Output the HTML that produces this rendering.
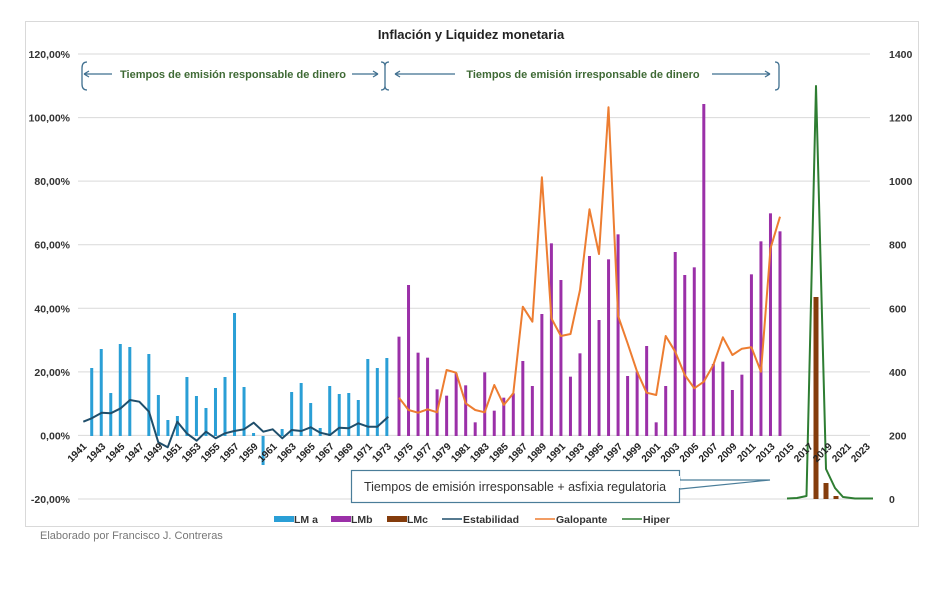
<!DOCTYPE html>
<html><head><meta charset="utf-8"><style>
body{margin:0;background:#fff;width:942px;height:593px;overflow:hidden;font-family:"Liberation Sans",sans-serif}
</style></head><body>
<svg id="s" width="942" height="593" xmlns="http://www.w3.org/2000/svg" font-family="Liberation Sans, sans-serif">
<rect x="25.5" y="21.5" width="893" height="505" fill="#fff" stroke="#d9d9d9"/>
<text x="471" y="39" font-size="13" font-weight="bold" text-anchor="middle" fill="#222">Inflación y Liquidez monetaria</text>
<g id="grid" stroke="#d9d9d9" stroke-width="1"></g>
<g id="ylab" font-size="10.5" font-weight="bold" fill="#333"></g>
<g id="bars"></g>
<g id="lines" fill="none" stroke-width="2" stroke-linejoin="round"></g>
<g id="xlab" font-size="10" font-weight="bold" fill="#222"></g>
<g stroke="#3f6f8f" stroke-width="1.3" fill="none">
<path d="M87,62 Q82,62 82,68 L82,84 Q82,90 87,90"/>
<path d="M84,74 L112,74 M84,74 l5,-3 M84,74 l5,3"/>
<path d="M352,74 L378,74 M378,74 l-5,-3 M378,74 l-5,3"/>
<path d="M381,62 Q385,62 385,66 L385,86 Q385,90 381,90 M389,62 Q385,62 385,66 M385,86 Q385,90 389,90"/>
<path d="M395,74 L455,74 M395,74 l5,-3 M395,74 l5,3"/>
<path d="M712,74 L770,74 M770,74 l-5,-3 M770,74 l-5,3"/>
<path d="M775,62 Q779,62 779,66 L779,86 Q779,90 775,90"/>
</g>
<text x="233" y="78" font-size="11" font-weight="bold" fill="#3f6a35" text-anchor="middle">Tiempos de emisión responsable de dinero</text>
<text x="583" y="78" font-size="11" font-weight="bold" fill="#3f6a35" text-anchor="middle">Tiempos de emisión irresponsable de dinero</text>
<path d="M679,474 L680,480 L770,480 L680,489" fill="#fff" stroke="#4a7d99" stroke-width="1.2"/>
<rect x="351.5" y="470.5" width="328" height="32" fill="#fff" stroke="#4a7d99" stroke-width="1.2"/>
<path d="M679,476 L679,488" stroke="#fff" stroke-width="2"/>
<text x="515" y="491" font-size="12.5" fill="#333" text-anchor="middle">Tiempos de emisión irresponsable + asfixia regulatoria</text>
<g font-size="10.5" font-weight="bold" fill="#333">
<rect x="274" y="516" width="20" height="6" fill="#2a9fd6"/><text x="294" y="523">LM a</text>
<rect x="331" y="516" width="20" height="6" fill="#9b30a8"/><text x="351" y="523">LMb</text>
<rect x="387" y="516" width="20" height="6" fill="#843c0c"/><text x="407" y="523">LMc</text>
<line x1="442" y1="519" x2="462" y2="519" stroke="#1f4e6b" stroke-width="1.5"/><text x="463" y="523">Estabilidad</text>
<line x1="535" y1="519" x2="555" y2="519" stroke="#ed7d31" stroke-width="1.5"/><text x="556" y="523">Galopante</text>
<line x1="622" y1="519" x2="642" y2="519" stroke="#2e7d32" stroke-width="1.5"/><text x="643" y="523">Hiper</text>
</g>
<text x="40" y="539" font-size="11" fill="#777">Elaborado por Francisco J. Contreras</text>
</svg>
<script>
const NS="http://www.w3.org/2000/svg";
function el(p,t,a,txt){const e=document.createElementNS(NS,t);for(const k in a)e.setAttribute(k,a[k]);if(txt!==undefined)e.textContent=txt;document.getElementById(p).appendChild(e);return e;}
const L=["120,00%","100,00%","80,00%","60,00%","40,00%","20,00%","0,00%","-20,00%"];
const R=["1400","1200","1000","800","600","400","200","0"];
for(let i=0;i<8;i++){const y=54+i*63.57;
 el("grid","line",{x1:78,x2:870,y1:y,y2:y});
 el("ylab","text",{x:70,y:y+4,"text-anchor":"end"},L[i]);
 el("ylab","text",{x:889,y:y+4},R[i]);}
const blue={1942:368,1943:349,1944:393,1945:344,1946:347,1948:354,1949:395,1950:420,1951:416,1952:377,1953:396,1954:408,1955:388,1956:377,1957:313,1958:387,1959:433,1960:465,1962:429,1963:392,1964:383,1965:403,1966:428,1967:386,1968:394,1969:393,1970:400,1971:359,1972:368,1973:358};
const xa=Y=>82.2+(Y-1941)*9.52;
for(const y in blue){const x=xa(+y),t=blue[y];el("bars","rect",{x:x-1.5,y:Math.min(t,436),width:3,height:Math.abs(436-t),fill:"#2a9fd6"});}
const pz=[770,615,818,833,928,947,880,916,1027,877,992,953,940,843,918,702,490,600,890,820,528,720,538,463,888,875,798,1027,918,516,585,562,72,852,845,930,884,583,484,400,454];
pz.forEach((z,i)=>{const x=399+i*9.525,t=80+z/3;el("bars","rect",{x:x-1.5,y:t,width:3,height:436-t,fill:"#9b30a8"});});
[[816,297],[826,483],[836,496]].forEach(([x,t])=>el("bars","rect",{x:x-2.5,y:t,width:5,height:499-t,fill:"#843c0c"}));
const ez=[[70,515],[95,505],[125,488],[152,490],[182,475],[210,450],[238,455],[267,485],[295,577],[323,592],[352,515],[380,550],[410,572],[438,545],[467,565],[495,550],[523,543],[552,538],[581,518],[610,545],[638,538],[667,565],[695,540],[724,543],[752,532],[781,548],[810,555],[838,533],[866,535],[895,520],[924,530],[952,530],[985,500]];
el("lines","polyline",{points:ez.map(([a,b])=>(60+a/3).toFixed(1)+","+(250+b/3).toFixed(1)).join(" "),stroke:"#1f4e6b"});
const oz=[953,990,998,988,997,870,878,970,990,997,915,975,940,680,725,292,715,768,762,630,388,522,82,708,790,875,938,945,768,815,885,925,905,855,772,825,806,802,875,505,410];
el("lines","polyline",{points:oz.map((z,i)=>(399+i*9.525).toFixed(1)+","+(80+z/3).toFixed(1)).join(" "),stroke:"#ed7d31"});
el("lines","polyline",{points:"787,498.5 797,498 806.5,496 816,86 826,469 835,488 843,497 855,498.5 873,498.5",stroke:"#2e7d32"});
for(let Y=1941;Y<=2023;Y+=2){const x=(Y<=1973?xa(Y):399+(Y-1974)*9.525)+5;
 el("xlab","text",{x:x,y:447,"text-anchor":"end",transform:`rotate(-45 ${x} 447)`},Y);}
</script>
</body></html>
